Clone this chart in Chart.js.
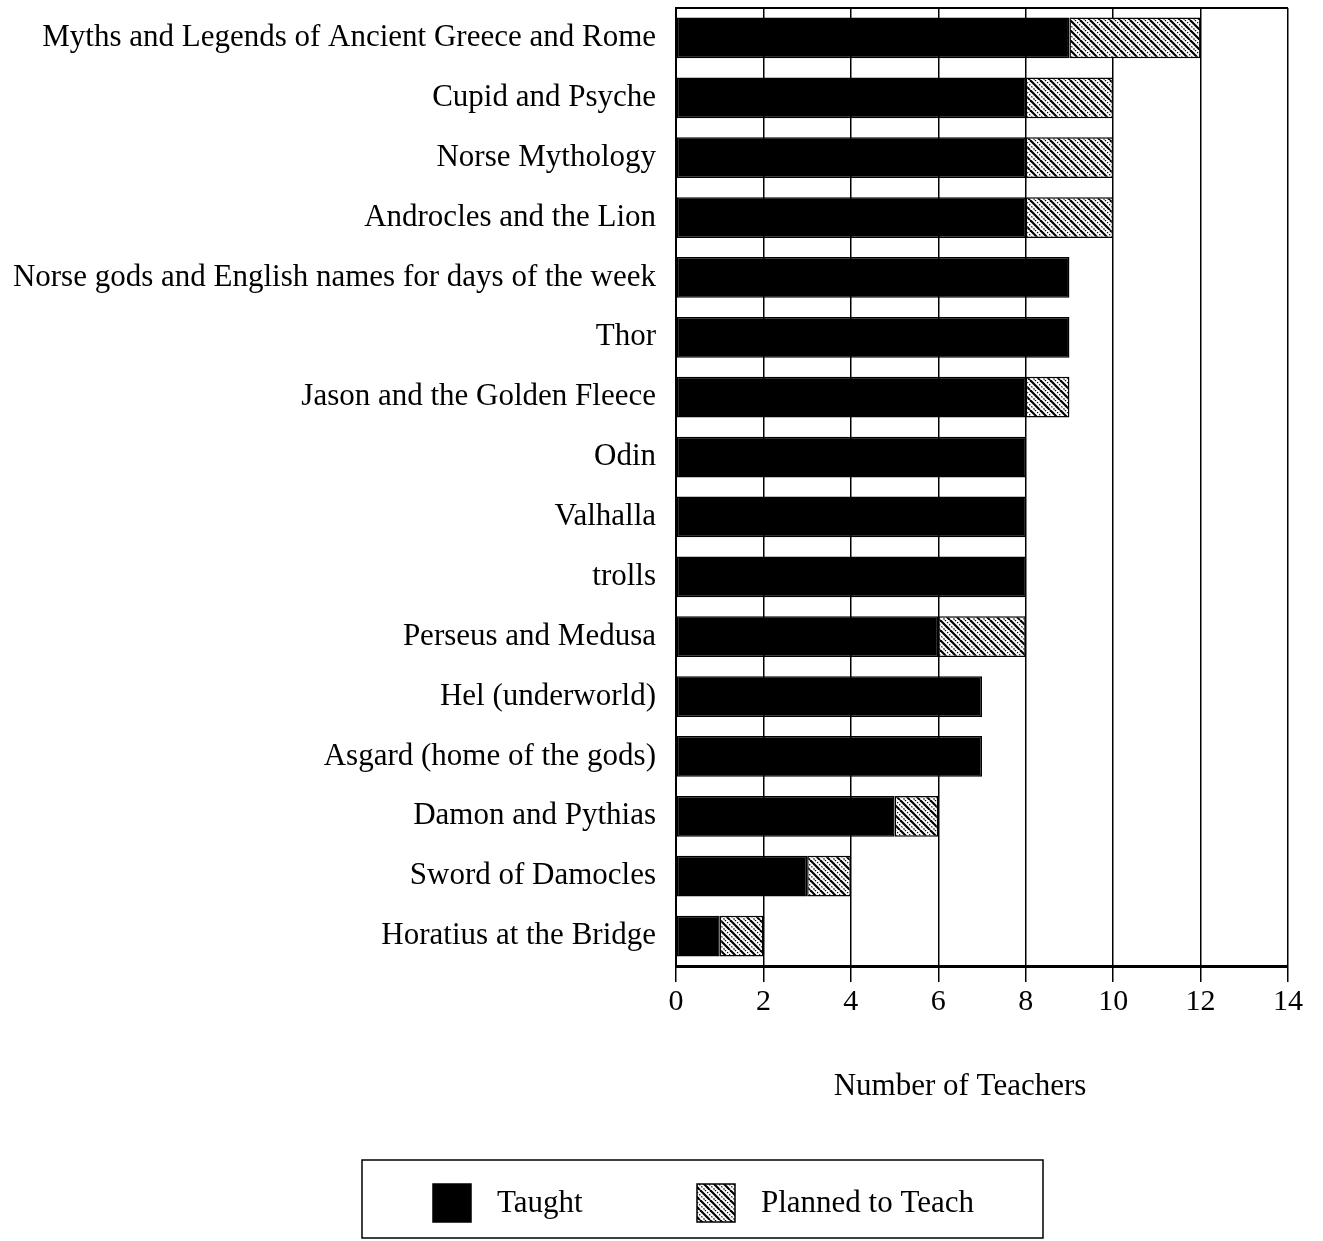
<!DOCTYPE html>
<html>
<head>
<meta charset="utf-8">
<script src="https://cdn.jsdelivr.net/npm/chart.js@4.4.1/dist/chart.umd.min.js"></script>
<style>
html,body{margin:0;padding:0;background:#fff;}
canvas{display:block;}
</style>
</head>
<body>
<canvas id="c" width="1323" height="1241"></canvas>
<script>
const categories = [
  "Myths and Legends of Ancient Greece and Rome",
  "Cupid and Psyche",
  "Norse Mythology",
  "Androcles and the Lion",
  "Norse gods and English names for days of the week",
  "Thor",
  "Jason and the Golden Fleece",
  "Odin",
  "Valhalla",
  "trolls",
  "Perseus and Medusa",
  "Hel (underworld)",
  "Asgard (home of the gods)",
  "Damon and Pythias",
  "Sword of Damocles",
  "Horatius at the Bridge"
];
const taught  = [9, 8, 8, 8, 9, 9, 8, 8, 8, 8, 6, 7, 7, 5, 3, 1];
const planned = [3, 2, 2, 2, 0, 0, 1, 0, 0, 0, 2, 0, 0, 1, 1, 1];
const xTicks  = [0, 2, 4, 6, 8, 10, 12, 14];
const seriesNames = ["Taught", "Planned to Teach"];
const axisTitle = "Number of Teachers";

function makeHatch() {
  const s = 10;
  const c = document.createElement('canvas');
  c.width = s; c.height = s;
  const g = c.getContext('2d');
  g.fillStyle = '#fff';
  g.fillRect(0, 0, s, s);
  g.strokeStyle = '#000';
  g.lineWidth = 2.2;
  for (const o of [-s, 0, s]) {
    g.beginPath(); g.moveTo(o, 0); g.lineTo(o + s, s); g.stroke();
  }
  g.lineWidth = 1.2;
  g.setLineDash([1.5, 1.5]);
  for (const o of [-s, 0, s]) {
    g.beginPath(); g.moveTo(o + s / 2, 0); g.lineTo(o + s / 2 + s, s); g.stroke();
  }
  return g.createPattern(c, 'repeat');
}
const ctx = document.getElementById('c').getContext('2d');
const hatch = makeHatch();
const serif = "'Liberation Serif', 'DejaVu Serif', serif";

const framePlugin = {
  id: 'frame',
  afterDraw(chart) {
    const a = chart.chartArea;
    const g = chart.ctx;
    g.save();
    g.strokeStyle = '#000';
    g.lineWidth = 2;
    g.beginPath();
    g.moveTo(a.left, a.top); g.lineTo(a.right, a.top);
    g.stroke();
    // axis title
    g.fillStyle = '#000';
    g.font = "31px " + serif;
    g.textAlign = 'center';
    g.textBaseline = 'middle';
    g.fillText(axisTitle, 960, 1087);
    // legend box
    const bx = 362, by = 1160, bw = 681, bh = 78;
    g.lineWidth = 1.5;
    g.strokeRect(bx, by, bw, bh);
    const ds = chart.data.datasets;
    const items = [{x: 433, label: ds[0].label, fill: ds[0].backgroundColor}, {x: 697, label: ds[1].label, fill: ds[1].backgroundColor}];
    g.textAlign = 'left';
    items.forEach(it => {
      g.fillStyle = it.fill;
      g.fillRect(it.x, 1184, 38, 38);
      g.strokeStyle = '#000';
      g.lineWidth = 1.5;
      g.strokeRect(it.x, 1184, 38, 38);
      g.fillStyle = '#000';
      g.fillText(it.label, it.x + 64, 1204);
    });
    g.restore();
  }
};

new Chart(ctx, {
  type: 'bar',
  data: {
    labels: categories,
    datasets: [
      {label: seriesNames[0], data: taught, backgroundColor: '#000', borderColor: '#000', borderWidth: 1.5, borderSkipped: false},
      {label: seriesNames[1], data: planned, backgroundColor: hatch, borderColor: '#000', borderWidth: 1.5, borderSkipped: false}
    ]
  },
  options: {
    indexAxis: 'y',
    responsive: false,
    animation: false,
    layout: {padding: {left: 0, right: 35, top: 8, bottom: 121}},
    datasets: {bar: {categoryPercentage: 1, barPercentage: 0.68}},
    plugins: {legend: {display: false}, tooltip: {enabled: false}},
    scales: {
      x: {
        stacked: true,
        min: 0, max: 14,
        afterBuildTicks(scale) { scale.ticks = xTicks.map(v => ({value: v})); },
        afterFit(scale) { scale.height = 154; scale.paddingRight = 0; },
        grid: {color: '#000', lineWidth: 1.5, tickLength: 16, drawOnChartArea: true},
        border: {display: true, color: '#000', width: 3},
        ticks: {color: '#000', font: {family: serif, size: 30}, padding: 2, maxRotation: 0},
        title: {display: false, text: axisTitle}
      },
      y: {
        stacked: true,
        afterFit(scale) { scale.width = 676; scale.paddingTop = 0; scale.paddingBottom = 0; },
        grid: {display: false, drawTicks: false},
        border: {display: true, color: '#000', width: 2},
        ticks: {color: '#000', font: {family: serif, size: 31}, padding: 20, autoSkip: false}
      }
    }
  },
  plugins: [framePlugin]
});
</script>
</body>
</html>
